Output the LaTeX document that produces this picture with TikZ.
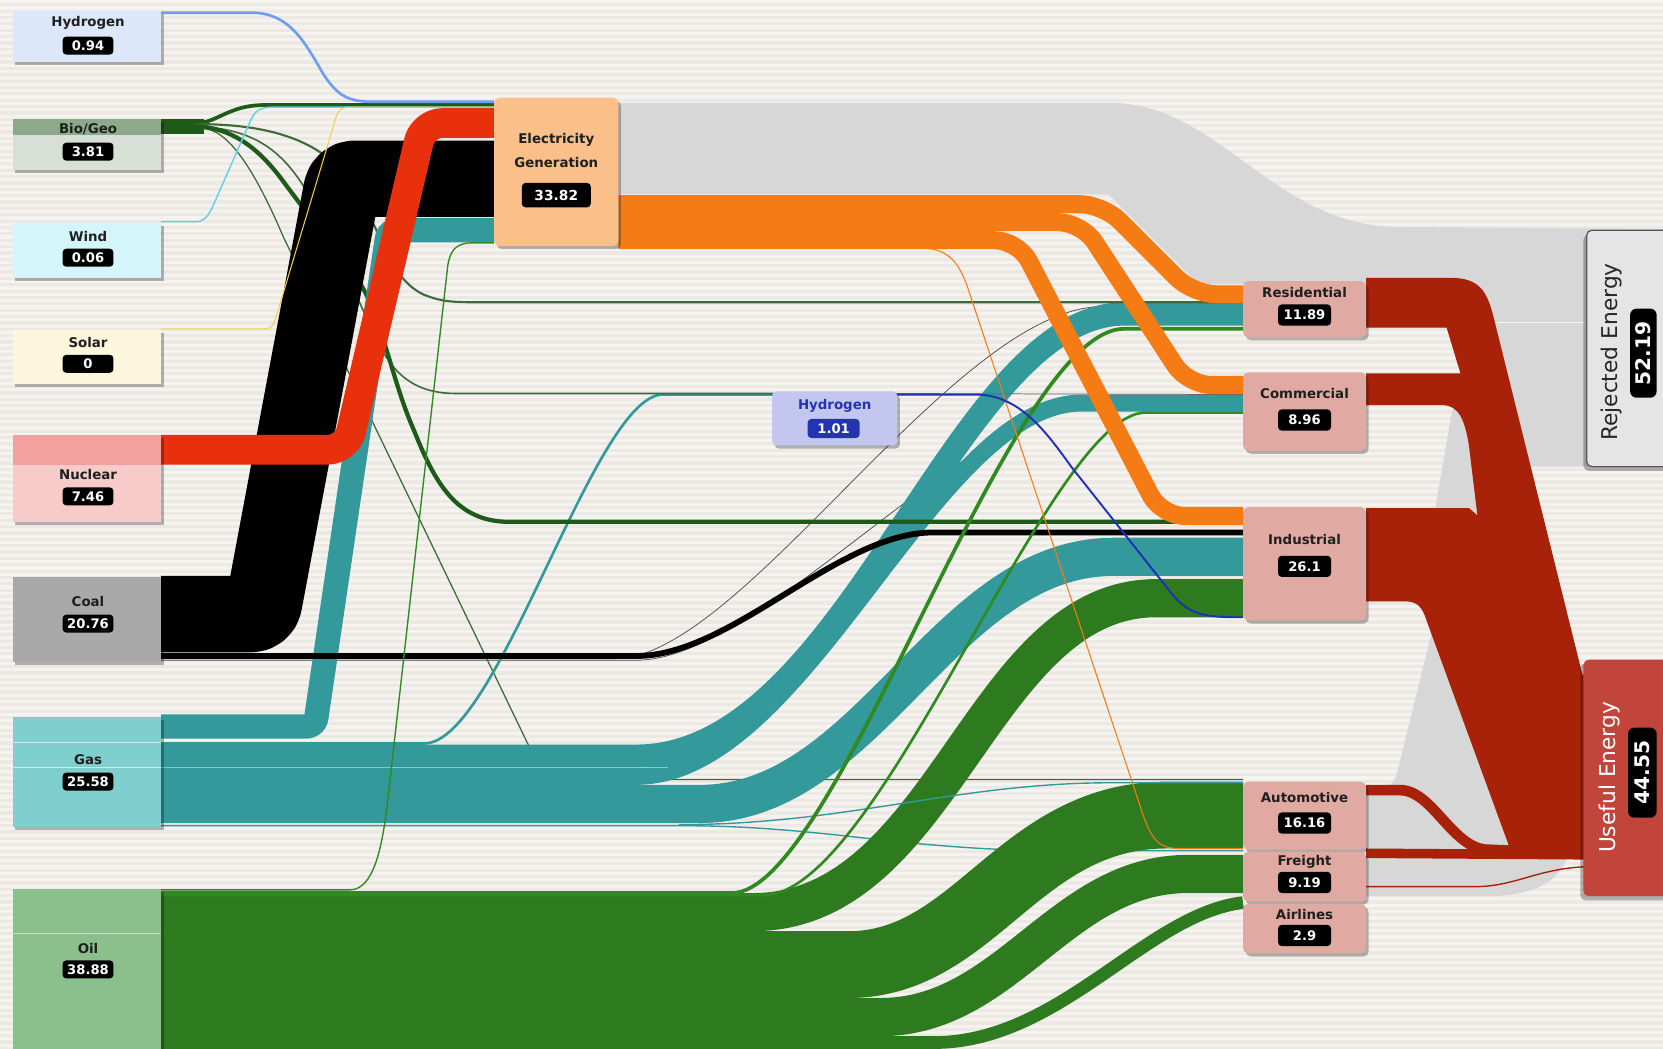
\documentclass[tikz,border=0pt]{standalone}
\usepackage{fontspec}
\setmainfont{DejaVu Sans}
\definecolor{bgc}{HTML}{ECE9E5}
\definecolor{stripec}{HTML}{F5F3F0}
\definecolor{greyf}{HTML}{D7D7D7}
\definecolor{tealf}{HTML}{33999A}
\definecolor{nucf}{HTML}{E8300C}
\definecolor{oilf}{HTML}{2E7A1F}
\definecolor{oilln}{HTML}{2F8A20}
\definecolor{biof}{HTML}{1E5A18}
\definecolor{biomid}{HTML}{3F6A3B}
\definecolor{orf}{HTML}{F57B14}
\definecolor{usef}{HTML}{A82209}
\definecolor{hbl}{HTML}{6E9EF0}
\definecolor{dbl}{HTML}{1F30B5}
\definecolor{cyf}{HTML}{63D2E3}
\definecolor{soy}{HTML}{F0D04A}
\definecolor{lbhyd}{HTML}{DCE8FA}
\definecolor{lbbio}{HTML}{D7DFD6}
\definecolor{lbbiot}{HTML}{8CAA8A}
\definecolor{lbwind}{HTML}{D4F5FA}
\definecolor{lbsol}{HTML}{FCF6DC}
\definecolor{lbnuc}{HTML}{F7CBC7}
\definecolor{lbnuct}{HTML}{F4A09F}
\definecolor{lbcoal}{HTML}{A9A9A9}
\definecolor{lbgas}{HTML}{80CFCF}
\definecolor{lboil}{HTML}{8BBF8B}
\definecolor{elecf}{HTML}{FBBF89}
\definecolor{hmid}{HTML}{C3C7EF}
\definecolor{hmidt}{HTML}{2434B0}
\definecolor{secf}{HTML}{E0AAA2}
\definecolor{rejf}{HTML}{E5E5E5}
\definecolor{usefb}{HTML}{C1453A}
\tikzset{
  box/.style={anchor=north west, inner sep=0pt, outer sep=0pt},
  lbl/.style={font=\fontsize{12.6}{14}\selectfont\bfseries, text=black!88, inner sep=0pt},
  val/.style={fill=black, text=white, rounded corners=3.5pt, inner sep=0pt, font=\fontsize{12.4}{14}\selectfont\bfseries, minimum width=48pt, minimum height=17pt},
  sval/.style={val, minimum width=50pt, minimum height=20pt},
  shad/.style={fill=black, opacity=0.28},
  band/.style={line cap=butt, line join=round},
}
\newcommand{\leftbox}[4]{%
  \fill[shad] (14.5,#2+3) rectangle ++(140,#3);
  \node[box, fill=#4, minimum width=140pt, minimum height=#3pt] (#1) at (12,#2) {};}
\newcommand{\secbox}[3]{%
  \fill[shad, rounded corners=5pt] (1174.5,#2+3) rectangle ++(116,#3);
  \node[box, fill=secf, rounded corners=5pt, minimum width=116pt, minimum height=#3pt] (#1) at (1172,#2) {};}
\begin{document}
\begin{tikzpicture}[x=1pt,y=-1pt]
\useasboundingbox (0,0) rectangle (1568,989);
\clip (0,0) rectangle (1568,989);
\fill[bgc] (0,0) rectangle (1568,989);
\foreach \k in {0,...,165} {\fill[stripec] (0,\k*6) rectangle (1568,\k*6+3);}

% ---------- rejected (grey) flows
\fill[greyf] (583,97) -- (1047,97) .. controls (1150,97) and (1200,214) .. (1320,214) -- (1570,216) -- (1570,360) -- (1410,360) -- (1380,309) -- (1288,309) -- (1288,268) -- (1130,268) -- (1045,183) -- (583,183) -- cycle;
\fill[greyf] (1288,742) -- (1300,742) .. controls (1311,742) and (1314,738) .. (1317,730) -- (1349,600) -- (1352,487) -- (1368,393) .. controls (1373,368) and (1390,360) .. (1420,360) -- (1570,360) -- (1570,440) -- (1443,440) -- (1482,600) -- (1482,790) .. controls (1478,830) and (1450,845) .. (1400,845) -- (1288,845) -- cycle;

% ---------- coal thin lines
\draw[band, black!70, line width=0.7pt] (152,621) -- (580,621) .. controls (700,621) and (900,289) .. (1040,289) -- (1172,289);
\draw[band, black!70, line width=0.7pt] (152,622.5) -- (600,622.5) .. controls (720,622.5) and (920,374) .. (1050,374) -- (1172,374);

% ---------- bio -> automotive thin line
\draw[band, biomid, line width=1.2pt] (152,121) -- (190,121) .. controls (215,121) and (240,160) .. (267,223) -- (497,700) .. controls (515,735) and (540,735) .. (600,735) -- (1172,735);

% ---------- gas flows
\draw[band, tealf, line width=36pt] (152,758) -- (660,758) .. controls (820,758) and (890,525) .. (1050,525) -- (1172,525);
\draw[band, tealf, line width=16pt] (152,732) -- (600,732) .. controls (760,732) and (880,380) .. (1020,380) -- (1172,380);
\draw[band, tealf, line width=22pt] (152,713) -- (600,713) .. controls (800,713) and (900,296) .. (1060,296) -- (1172,296);
\draw[band, tealf, line width=2.5pt] (152,701) -- (400,701) .. controls (470,701) and (560,372) .. (625,372) -- (729,372);
\draw[band, tealf, line width=1.3pt] (152,778.5) -- (640,778.5) .. controls (780,778.5) and (850,802) .. (1000,802) -- (1172,802);
\draw[white, opacity=0.45, line width=0.8pt] (152,724) -- (630,724);

% ---------- bio lines
\draw[band, biof, line width=14pt] (152,119.5) -- (192,119.5);
\draw[band, biof, line width=3.5pt] (185,116) .. controls (205,116) and (215,99) .. (250,99) -- (466,99);
\draw[band, biomid, line width=2pt] (185,117) .. controls (250,117) and (300,130) .. (330,170) .. controls (360,215) and (365,262) .. (400,278) .. controls (415,284) and (425,285) .. (450,285) -- (1172,285);
\draw[band, biomid, line width=1.5pt] (185,119) .. controls (240,122) and (270,140) .. (300,200) -- (355,320) .. controls (370,352) and (390,371) .. (430,371) -- (729,371);
\draw[band, biof, line width=4pt] (185,119) .. controls (220,121) and (245,140) .. (270,175) -- (340,268) .. controls (360,300) and (370,360) .. (390,405) .. controls (410,455) and (430,492) .. (480,492) -- (1172,492);

% ---------- into electricity generation
\draw[band, tealf, line width=23pt, rounded corners=8pt] (152,685) -- (297,685) -- (366,217) -- (466,217);
\draw[band, black, line width=72pt, rounded corners=10pt] (152,579) -- (247,579) -- (324,168.5) -- (466,168.5);
\draw[band, nucf, line width=28pt, rounded corners=18pt] (152,424) -- (327,424) -- (399,116) -- (466,116);
\draw[band, hbl, line width=2.5pt] (152,12) -- (238,12) .. controls (275,12) and (290,45) .. (305,70) .. controls (318,90) and (328,96) .. (352,96) -- (466,96);
\draw[band, cyf, line width=1.4pt] (152,209) -- (185,209) .. controls (192,209) and (196,204) .. (200,196) -- (237,112) .. controls (241,104) and (246,101) .. (258,101) -- (466,101);
\draw[band, soy, line width=1pt] (152,310) -- (250,310) .. controls (256,310) and (258,306) .. (260,300) -- (317,110) .. controls (319,104) and (322,101) .. (330,101) -- (466,101);

% ---------- coal -> industrial
\draw[band, black, line width=5.5pt] (152,618.5) -- (600,618.5) .. controls (690,618.5) and (790,502) .. (880,502) -- (1172,502);

% ---------- oil flows
\draw[band, oilf, line width=36pt] (152,860) -- (710,860) .. controls (890,860) and (925,564) .. (1090,564) -- (1172,564);
\draw[band, oilf, line width=63pt] (152,909.5) -- (800,909.5) .. controls (920,909.5) and (960,768.5) .. (1100,768.5) -- (1172,768.5);
\draw[band, oilf, line width=36pt] (152,959) -- (830,959) .. controls (950,959) and (1000,824) .. (1120,824) -- (1172,824);
\draw[band, oilf, line width=12pt] (152,983) -- (880,983) .. controls (1000,983) and (1080,862) .. (1172,851);
\draw[band, tealf, line width=1.3pt] (640,777.5) .. controls (800,777.5) and (900,738) .. (1050,738) -- (1172,738);
\draw[band, oilln, line width=3.5pt] (152,842) -- (690,842) .. controls (790,842) and (950,310) .. (1060,310) -- (1172,310);
\draw[band, oilln, line width=2.5pt] (152,844) -- (720,844) .. controls (830,844) and (990,389) .. (1080,389) -- (1172,389);
\draw[band, oilln, line width=1.3pt] (152,839) -- (330,839) .. controls (352,839) and (360,800) .. (365,760) -- (422,252) .. controls (424,236) and (430,229) .. (445,229) -- (466,229);

% ---------- hydrogen (middle) -> commercial thin
\draw[band, black!60, line width=0.7pt] (845,371) -- (1172,372);

% ---------- electricity out (orange)
\draw[band, orf, line width=17pt, rounded corners=22pt] (583,192.5) -- (1040,192.5) -- (1125,277.5) -- (1172,277.5);
\draw[band, orf, line width=17pt, rounded corners=22pt] (583,209.5) -- (1020,209.5) -- (1120,363) -- (1172,363);
\draw[band, orf, line width=17pt, rounded corners=22pt] (583,226.5) -- (960,226.5) -- (1095,486.5) -- (1172,486.5);
\draw[band, orf, line width=1pt] (870,234) .. controls (895,234) and (905,250) .. (912,270) -- (1075,760) .. controls (1085,792) and (1092,800) .. (1112,800) -- (1172,800);

% ---------- hydrogen (middle) -> industrial
\draw[band, dbl, line width=1.8pt] (845,372) -- (920,372) .. controls (960,372) and (985,405) .. (1010,440) -- (1105,560) .. controls (1122,580) and (1135,582) .. (1172,582);

% ---------- useful energy (red)
\fill[usef] (1288,262) -- (1368,262) .. controls (1395,262) and (1402,275) .. (1408,298) -- (1492,636) -- (1500,636) -- (1500,806) -- (1424,801) -- (1345,585) .. controls (1341,572) and (1336,567) .. (1325,567) -- (1288,567) -- (1288,479) -- (1385,479) -- (1393,486) -- (1385,420) .. controls (1381,395) and (1375,382) .. (1360,382) -- (1288,382) -- (1288,352) -- (1377,352) -- (1364,309) -- (1288,309) -- cycle;
\draw[band, usef, line width=10pt] (1288,745) -- (1320,745) .. controls (1350,745) and (1368,797) .. (1400,801) -- (1450,803);
\draw[band, usef, line width=9pt] (1288,804.5) -- (1500,806);
\draw[band, usef, line width=1.3pt] (1288,836) -- (1390,836) .. controls (1430,836) and (1450,818) .. (1500,817);
\draw[white, opacity=0.8, line width=0.8pt] (1411,304) -- (1497,304);

% ---------- left boxes
\leftbox{hydL}{10}{48}{lbhyd}
\leftbox{bioL}{112}{48}{lbbio}
\fill[lbbiot] (12,112) rectangle (152,127);
\leftbox{windL}{210}{52}{lbwind}
\leftbox{solL}{311}{51}{lbsol}
\leftbox{nucL}{410}{82}{lbnuc}
\fill[lbnuct] (12,410) rectangle (152,438);
\leftbox{coalL}{544}{80}{lbcoal}
\leftbox{gasL}{676}{104}{lbgas}
\draw[white, opacity=0.6, line width=0.8pt] (12,700) -- (152,700) (12,724) -- (152,724);
\leftbox{oilL}{838}{160}{lboil}
\draw[white, opacity=0.5, line width=0.8pt] (12,880) -- (152,880);

\node[lbl] (hydLt) at (83,22) {Hydrogen};   \node[val] (hydLv) at (83,43) {0.94};
\node[lbl] (bioLt) at (83,122) {Bio/Geo};   \node[val] (bioLv) at (83,143) {3.81};
\node[lbl] (windLt) at (83,223) {Wind};     \node[val] (windLv) at (83,243) {0.06};
\node[lbl] (solLt) at (83,323) {Solar};     \node[val] (solLv) at (83,343) {0};
\node[lbl] (nucLt) at (83,447) {Nuclear};   \node[val] (nucLv) at (83,468) {7.46};
\node[lbl] (coalLt) at (83,567) {Coal};     \node[val] (coalLv) at (83,588) {20.76};
\node[lbl] (gasLt) at (83,716) {Gas};       \node[val] (gasLv) at (83,737) {25.58};
\node[lbl] (oilLt) at (83,894) {Oil};       \node[val] (oilLv) at (83,914) {38.88};

% ---------- electricity generation
\fill[shad, rounded corners=5pt] (468.5,95) rectangle ++(117,140);
\node[box, fill=elecf, rounded corners=5pt, minimum width=117pt, minimum height=140pt] (elec) at (466,92) {};
\node[lbl] (elect1) at (524.5,132) {Electricity};
\node[lbl] (elect2) at (524.5,153) {Generation};
\node[val, minimum width=65pt, minimum height=23pt, font=\fontsize{13}{15}\selectfont\bfseries] (elecv) at (524.5,184) {33.82};

% ---------- hydrogen (middle)
\fill[shad, rounded corners=4pt] (730.5,372) rectangle ++(118,51);
\node[box, fill=hmid, rounded corners=4pt, minimum width=118pt, minimum height=51pt] (hmidb) at (728,369) {};
\node[lbl, text=hmidt] (hmidt) at (787,383) {Hydrogen};
\node[val, fill=hmidt, minimum width=49pt, minimum height=18pt] (hmidv) at (786,404) {1.01};

% ---------- sectors
\secbox{res}{265}{53}
\secbox{com}{351}{74}
\secbox{ind}{478}{107}
\secbox{auto}{737}{64}
\secbox{frt}{803}{47}
\secbox{air}{852}{47}
\node[lbl] (rest) at (1230,276) {Residential};  \node[sval] (resv) at (1230,297) {11.89};
\node[lbl] (comt) at (1230,371) {Commercial};   \node[sval] (comv) at (1230,396) {8.96};
\node[lbl] (indt) at (1230,509) {Industrial};   \node[sval] (indv) at (1230,534) {26.1};
\node[lbl] (autot) at (1230,752) {Automotive};  \node[sval] (autov) at (1230,776) {16.16};
\node[lbl] (frtt) at (1230,813) {Freight};      \node[sval] (frtv) at (1230,832) {9.19};
\node[lbl] (airt) at (1230,862) {Airlines};     \node[sval] (airv) at (1230,882) {2.9};

% ---------- rejected / useful
\fill[shad, rounded corners=5pt] (1493,221) rectangle (1580,444);
\node[box, fill=rejf, draw=black!65, line width=1.2pt, rounded corners=5pt, minimum width=90pt, minimum height=223pt] (rej) at (1496,217) {};
\node[font=\fontsize{20.5}{24}\selectfont, rotate=90, inner sep=0pt, text=black!85] (rejt) at (1519,332) {Rejected Energy};
\node[val, rotate=90, minimum width=84pt, minimum height=25pt, rounded corners=6pt, font=\fontsize{19}{22}\selectfont\bfseries] (rejv) at (1549.5,333) {52.19};

\fill[shad, rounded corners=5pt] (1490,625) rectangle (1580,849);
\node[box, fill=usefb, rounded corners=5pt, minimum width=90pt, minimum height=223pt] (use) at (1493,622) {};
\node[font=\fontsize{20.5}{24}\selectfont, rotate=90, inner sep=0pt, text=white] (uset) at (1518,733) {Useful Energy};
\node[val, rotate=90, minimum width=85pt, minimum height=27pt, rounded corners=6pt, font=\fontsize{19}{22}\selectfont\bfseries] (usev) at (1548.5,728.5) {44.55};
\end{tikzpicture}
\end{document}
